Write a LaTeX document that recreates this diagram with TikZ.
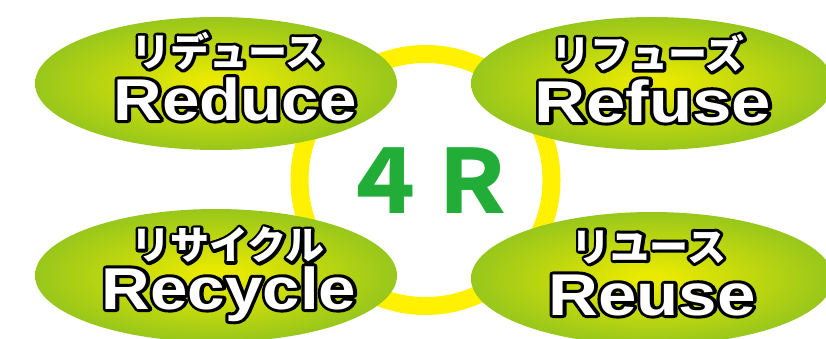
\documentclass[tikz,border=0pt]{standalone}
\usepackage{graphicx}
\usepackage{fontspec}
\setmainfont{Liberation Sans}
\newfontfamily\jpfont{Noto Sans CJK JP}
\newfontfamily\enfont{Liberation Sans}
\definecolor{ringyel}{RGB}{255,241,0}
\definecolor{fourgrn}{RGB}{34,172,56}
\definecolor{ellyel}{RGB}{234,234,0}
\definecolor{ellgrn}{RGB}{141,194,31}
\pgfdeclareradialshading{ellshade}{\pgfpoint{0bp}{0bp}}{color(0bp)=(ellyel); color(2bp)=(ellyel); color(28bp)=(ellgrn); color(50bp)=(ellgrn)}
\newcommand\outl[1]{\special{pdf:literal 1 Tr 6 w 1 j 1 J 0 G}\rlap{#1}\special{pdf:literal 0 Tr}\textcolor{white}{#1}}
\tikzset{
  ellbox/.style={shading=ellshade},
  jplabel/.style={inner sep=0pt, text=black, font=\jpfont\bfseries\fontsize{39}{39}\selectfont},
  enlabel/.style={inner sep=0pt, text=black, anchor=base, font=\enfont\bfseries\fontsize{59}{59}\selectfont},
}
\begin{document}
\begin{tikzpicture}[x=1pt,y=-1pt]
\useasboundingbox (0,0) rectangle (826,338);
\clip (0,0) rectangle (826,338);
% ring
\coordinate (ringc) at (425.5,180);
\draw[ringyel, line width=18pt] (ringc) circle[radius=126pt];
\node[inner sep=0pt, text=fourgrn, font=\jpfont\bfseries\fontsize{88}{88}\selectfont] (fourR) at (428,181) {４Ｒ};
% ellipses
\shade[ellbox] (216,83.5) circle[x radius=181pt, y radius=66.5pt];
\shade[ellbox] (652,83.5) circle[x radius=181pt, y radius=66.5pt];
\shade[ellbox] (216,275.5) circle[x radius=181pt, y radius=66.5pt];
\shade[ellbox] (652,278.5) circle[x radius=181pt, y radius=66.5pt];
% labels
\node[jplabel] (reducejp) at (228,51) {\outl{リデュース}};
\node[enlabel] (reduceen) at (235,120) {\scalebox{1.14}[1]{\outl{Reduce}}};
\node[jplabel] (refusejp) at (648,53) {\outl{リフューズ}};
\node[enlabel] (refuseen) at (653,122) {\scalebox{1.2}[1]{\outl{Refuse}}};
\node[jplabel] (recyclejp) at (228,245) {\outl{リサイクル}};
\node[enlabel] (recycleen) at (229,309) {\scalebox{1.14}[1]{\outl{Recycle}}};
\node[jplabel] (reusejp) at (649,247) {\outl{リユース}};
\node[enlabel] (reuseen) at (652,315) {\scalebox{1.17}[1]{\outl{Reuse}}};
\end{tikzpicture}
\end{document}
